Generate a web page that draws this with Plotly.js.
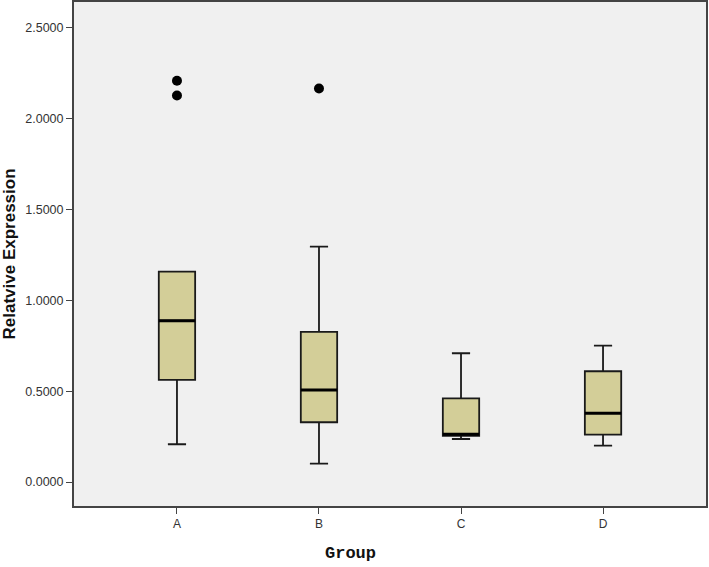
<!DOCTYPE html>
<html>
<head>
<meta charset="utf-8">
<script src="https://cdn.plot.ly/plotly-3.0.1.min.js"></script>
<style>html,body{margin:0;padding:0;background:#fff;}#chart{width:709px;height:567px;}</style>
</head>
<body>
<div id="chart"></div>
<script>
const groups = ["A", "B", "C", "D"];
const lowerWhisker = [0.208, 0.101, 0.237, 0.200];
const q1 = [0.562, 0.329, 0.254, 0.261];
const median = [0.888, 0.507, 0.263, 0.379];
const q3 = [1.158, 0.827, 0.461, 0.610];
const upperWhisker = [1.158, 1.296, 0.709, 0.751];
const outlierGroup = ["A", "A", "B"];
const outlierValue = [2.209, 2.128, 2.167];
const yTicks = [0, 0.5, 1.0, 1.5, 2.0, 2.5];

const boxW = 0.256;
const pos = groups.map((g, i) => i);
const traces = [];
groups.forEach((g, i) => {
  traces.push({
    type: "box",
    x: [i],
    q1: [q1[i]], median: [median[i]], q3: [q3[i]],
    lowerfence: [lowerWhisker[i]], upperfence: [upperWhisker[i]],
    width: boxW,
    whiskerwidth: 0.5,
    fillcolor: "rgb(211,206,152)",
    line: {color: "#1a1a1a", width: 1.8},
    boxpoints: false,
    hoverinfo: "skip",
    showlegend: false
  });
  traces.push({
    type: "scatter", mode: "lines",
    x: [i - boxW / 2, i + boxW / 2],
    y: [median[i], median[i]],
    line: {color: "#000", width: 3},
    hoverinfo: "skip", showlegend: false
  });
});
traces.push({
  type: "scatter", mode: "markers",
  x: outlierGroup.map(g => groups.indexOf(g)),
  y: outlierValue,
  marker: {color: "#000", size: 10},
  hoverinfo: "skip", showlegend: false
});

const layout = {
  width: 709, height: 567,
  margin: {l: 74, r: 3, t: 2, b: 61},
  paper_bgcolor: "#fff",
  plot_bgcolor: "#f0f0f0",
  showlegend: false,
  xaxis: {
    range: [-0.725, 3.725],
    tickvals: pos, ticktext: groups,
    ticks: "outside", ticklen: 6, tickcolor: "#444", tickwidth: 1,
    showgrid: false, zeroline: false,
    showline: true, mirror: true, linecolor: "#444", linewidth: 2,
    tickfont: {family: "Liberation Sans, Arial, sans-serif", size: 12, color: "#333"}
  },
  yaxis: {
    range: [-0.132, 2.643],
    tickvals: yTicks, tickformat: ".4f",
    ticks: "outside", ticklen: 6, tickcolor: "#444", tickwidth: 1,
    showgrid: false, zeroline: false,
    showline: true, mirror: true, linecolor: "#444", linewidth: 2,
    tickfont: {family: "Liberation Sans, Arial, sans-serif", size: 12.5, color: "#333"},
    title: {text: "Relatvive Expression", standoff: 6,
      font: {family: "Liberation Sans, Arial, sans-serif", size: 17, color: "#111", weight: "bold"}}
  },
  annotations: [{
    text: "<b>Group</b>", xref: "paper", yref: "paper",
    x: 0.438, y: -0.095, xanchor: "center", yanchor: "middle", showarrow: false,
    font: {family: "Liberation Mono, Courier New, monospace", size: 17, color: "#111"}
  }]
};
Plotly.newPlot("chart", traces, layout, {displayModeBar: false, staticPlot: true});
</script>
</body>
</html>
